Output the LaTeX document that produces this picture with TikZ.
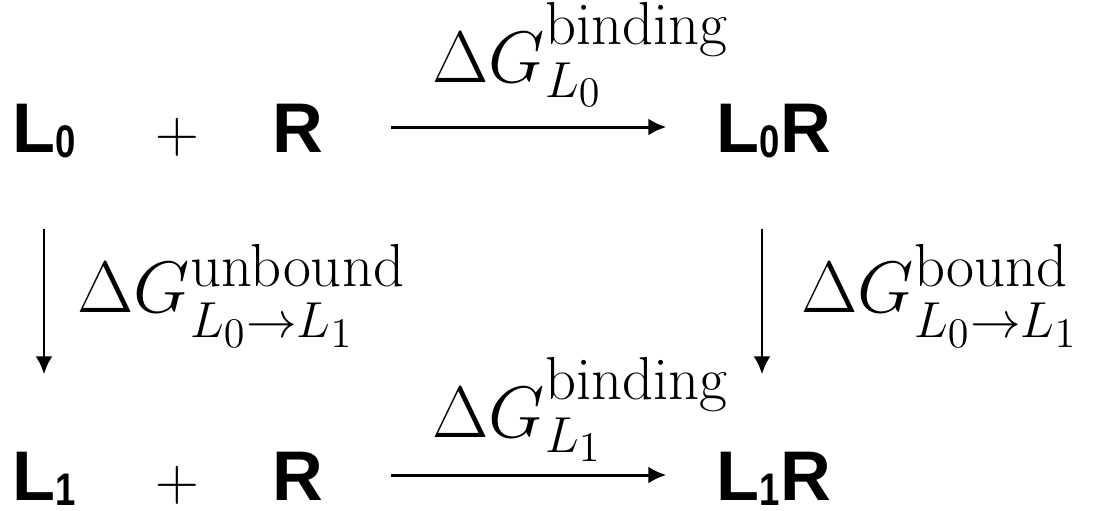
\documentclass[tikz,border=0pt]{standalone}
\usepackage{fontspec}
\newfontfamily\speciesfont{Liberation Sans}
\usetikzlibrary{arrows.meta}
\newcommand{\spsub}[1]{\raisebox{-0.05cm}{\fontsize{13}{13}\selectfont\scalebox{0.8}[1]{#1}}}
\newcommand{\supword}[1]{\mbox{\LARGE #1}}
\newcommand{\dgsub}[1]{\lower0.07cm\hbox{$\scriptstyle #1$}}
\begin{document}
\begin{tikzpicture}[species/.style={font={\speciesfont\bfseries\fontsize{20}{24}\selectfont}, anchor=base, inner sep=0pt, text height=0.50cm, text depth=0pt},
    dg/.style={font=\huge, inner sep=0pt},
    arr/.style={-{Latex[length=0.18cm, width=0.17cm]}, line width=0.85pt}]
    \useasboundingbox (0,0) rectangle (10.93,-5.10);
    \node[species] (L0) at (0.44,-1.52) {L\spsub{0}};
    \node[species, font=\LARGE] (p0) at (1.77,-1.52) {$+$};
    \node[species] (R0) at (2.975,-1.52) {R};
    \node[species] (L0R) at (7.74,-1.52) {L\spsub{0}R};
    \node[species] (L1) at (0.44,-5.00) {L\spsub{1}};
    \node[species, font=\LARGE] (p1) at (1.77,-5.00) {$+$};
    \node[species] (R1) at (2.975,-5.00) {R};
    \node[species] (L1R) at (7.74,-5.00) {L\spsub{1}R};
    \draw[arr, shorten <=0.67cm, shorten >=0.50cm] (R0) -- (L0R)
      node[dg, pos=0.274, anchor=base west, yshift=0.45cm] {$\Delta G^{\supword{binding}}_{\dgsub{L_0}}$};
    \draw[arr, shorten <=0.67cm, shorten >=0.50cm] (R1) -- (L1R)
      node[dg, pos=0.274, anchor=base west, yshift=0.38cm] {$\Delta G^{\supword{binding}}_{\dgsub{L_1}}$};
    \draw[arr, shorten <=0.76cm, shorten >=0.75cm] (L0) -- (L1)
      node[dg, midway, anchor=base west, xshift=0.32cm, yshift=-0.115cm] {$\Delta G^{\supword{unbound}}_{\dgsub{L_0\rightarrow L_1}}$};
    \draw[arr, shorten <=0.76cm, shorten >=0.75cm] ([xshift=-0.12cm]L0R.south) -- ([xshift=-0.12cm]L1R.north)
      node[dg, midway, anchor=base west, xshift=0.38cm, yshift=-0.115cm] {$\Delta G^{\supword{bound}}_{\dgsub{L_0\rightarrow L_1}}$};
  \end{tikzpicture}
\end{document}
